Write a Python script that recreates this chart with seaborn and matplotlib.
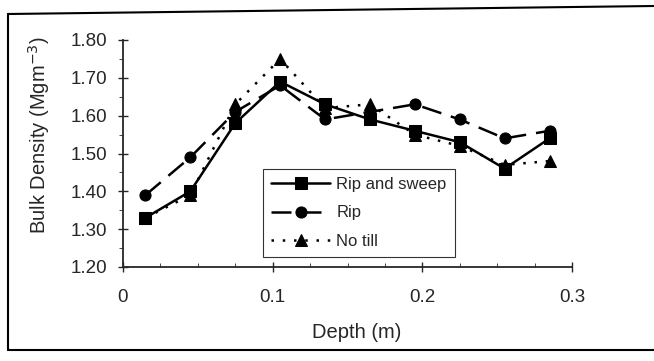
import numpy as np
import pandas as pd
import matplotlib
matplotlib.use("Agg")
import matplotlib.pyplot as plt
import seaborn as sns
from matplotlib.ticker import MultipleLocator, FormatStrFormatter
from matplotlib.lines import Line2D

depth = [0.015, 0.045, 0.075, 0.105, 0.135, 0.165, 0.195, 0.225, 0.255, 0.285]
rip_sweep = [1.33, 1.40, 1.58, 1.69, 1.63, 1.59, 1.56, 1.53, 1.46, 1.54]
rip = [1.39, 1.49, 1.61, 1.68, 1.59, 1.61, 1.63, 1.59, 1.54, 1.56]
no_till = [1.33, 1.39, 1.63, 1.75, 1.62, 1.63, 1.55, 1.52, 1.47, 1.48]
labels = ["Rip and sweep", "Rip", "No till"]

sns.set_style("ticks")
plt.rcParams['font.family'] = ['Liberation Sans', 'DejaVu Sans']

fig = plt.figure(figsize=(6.54, 3.61), dpi=100)
ax = fig.add_axes([123/654, 1-267/361, 449/654, 227/361])

styles = [(rip_sweep, '-', 's'), (rip, (0, (8, 4)), 'o'), (no_till, (0, (1, 3.5)), '^')]
for (vals, ls, mk), lab in zip(styles, labels):
    sns.lineplot(x=depth, y=vals, ax=ax, color='black', linestyle=ls, marker=mk,
                 markersize=8, markeredgecolor='black', linewidth=1.8, label=lab)

ax.set_xlim(0, 0.3)
ax.set_ylim(1.20, 1.80)
ax.xaxis.set_major_locator(MultipleLocator(0.1))
ax.xaxis.set_minor_locator(MultipleLocator(0.025))
ax.yaxis.set_major_locator(MultipleLocator(0.1))
ax.yaxis.set_minor_locator(MultipleLocator(0.05))
ax.yaxis.set_major_formatter(FormatStrFormatter('%.2f'))
ax.set_xticks([0, 0.1, 0.2, 0.3], ['0', '0.1', '0.2', '0.3'])
ax.tick_params(axis='both', which='major', labelsize=13.5, direction='inout', length=7, width=1)
ax.tick_params(axis='x', which='major', pad=12)
ax.tick_params(axis='y', which='major', pad=8)
ax.tick_params(axis='x', which='minor', direction='in', length=3)
ax.tick_params(axis='y', which='minor', direction='out', length=3)
sns.despine(ax=ax)
for s in ['left', 'bottom']:
    ax.spines[s].set_linewidth(1.3)

ax.set_xlabel("Depth (m)", fontsize=14.5)
ax.set_ylabel("Bulk Density (Mgm$^{-3}$)", fontsize=14.5)
ax.xaxis.set_label_coords(0.52, -0.245)
ax.yaxis.set_label_coords(-0.158, 0.58)

leg = ax.legend(loc='lower left', bbox_to_anchor=(0.312, 0.044), fontsize=12,
                frameon=True, fancybox=False, edgecolor='black', handlelength=3.5,
                handletextpad=0.4, borderpad=0.5, labelspacing=0.8, borderaxespad=0)
leg.get_frame().set_linewidth(0.8)

# scanned box around the figure
fig.add_artist(Line2D([8/654, 1.0], [1-14/361, 1-6/361], color='black', lw=1.5, transform=fig.transFigure))
fig.add_artist(Line2D([8/654, 8/654], [1-14/361, 1-350/361], color='black', lw=1.5, transform=fig.transFigure))
fig.add_artist(Line2D([8/654, 1.0], [1-350/361, 1-350/361], color='black', lw=1.5, transform=fig.transFigure))

fig.savefig("out.png", dpi=100)
